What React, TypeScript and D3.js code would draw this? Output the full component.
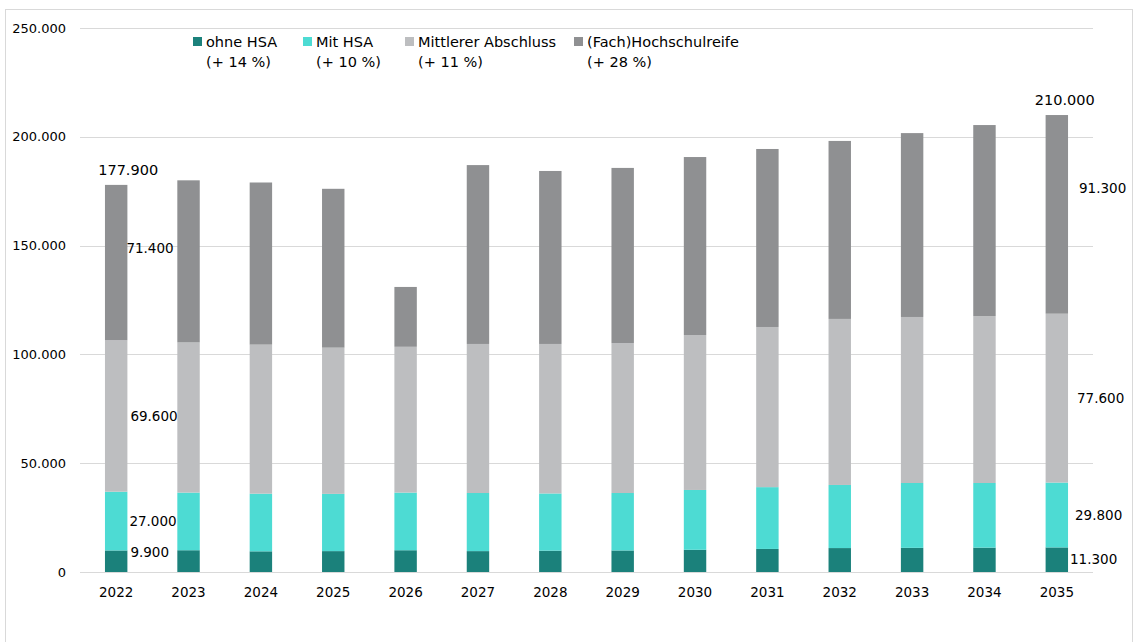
import React, { useRef, useEffect } from 'react';
import * as d3 from 'd3';

const years = ['2022', '2023', '2024', '2025', '2026', '2027', '2028', '2029', '2030', '2031', '2032', '2033', '2034', '2035'];
// values in thousands
const ohneHSA = [9.9, 10.0, 9.5, 9.6, 10.0, 9.6, 9.8, 9.9, 10.2, 10.6, 11.0, 11.1, 11.2, 11.3];
const mitHSA = [27.0, 26.5, 26.5, 26.3, 26.5, 26.7, 26.3, 26.4, 27.5, 28.4, 29.0, 29.8, 29.7, 29.8];
const mittlerer = [69.6, 69.0, 68.5, 67.2, 67.0, 68.5, 68.7, 68.9, 71.2, 73.6, 76.3, 76.3, 76.7, 77.6];
const hochschulreife = [71.4, 74.5, 74.5, 73.0, 27.5, 82.2, 79.5, 80.5, 81.8, 81.8, 81.8, 84.5, 87.8, 91.3];

const legendLabels = ['ohne HSA', 'Mit HSA', 'Mittlerer Abschluss', '(Fach)Hochschulreife'];
const legendChanges = ['(+ 14 %)', '(+ 10 %)', '(+ 11 %)', '(+ 28 %)'];
const colors = ['#1b817b', '#4ddbd3', '#bdbec0', '#8f9092'];
const yTicks = [0, 50, 100, 150, 200, 250];

const fmtK = (v: number) => (v === 0 ? '0' : d3.format(',')(Math.round(v * 1000)).replace(/,/g, '.'));

const W = 1137;
const H = 642;
const margin = { top: 28, left: 80, right: 44, bottom: 70 };

const App = () => {
  const svgRef = useRef<SVGSVGElement>(null);

  useEffect(() => {
    const svg = d3.select(svgRef.current);
    svg.selectAll('*').remove();
    const font = 'DejaVu Sans, sans-serif';

    const x = d3.scaleBand().domain(years).range([margin.left, W - margin.right]).paddingInner(0.69).paddingOuter(0.345);
    const y = d3.scaleLinear().domain([0, 250]).range([572, 28]);

    // border
    svg.append('rect').attr('x', 5.5).attr('y', 9.5).attr('width', 1127).attr('height', 640)
      .attr('fill', 'white').attr('stroke', '#d9d9d9');

    // grid
    svg.append('g').selectAll('line').data(yTicks).enter().append('line')
      .attr('x1', margin.left).attr('x2', W - margin.right)
      .attr('y1', d => Math.round(y(d)) + 0.5).attr('y2', d => Math.round(y(d)) + 0.5)
      .attr('stroke', '#d9d9d9').attr('stroke-width', 1);

    svg.append('g').selectAll('text').data(yTicks).enter().append('text')
      .attr('x', 66).attr('y', d => y(d)).attr('dy', '0.35em').attr('text-anchor', 'end')
      .attr('font-family', font).attr('font-size', 13).attr('fill', '#000')
      .text(d => fmtK(d));

    const rows = years.map((yr, i) => ({ year: yr, s0: ohneHSA[i], s1: mitHSA[i], s2: mittlerer[i], s3: hochschulreife[i] }));
    const stack = d3.stack<any>().keys(['s0', 's1', 's2', 's3']);
    const stacked = stack(rows);

    stacked.forEach((layer, li) => {
      svg.append('g').selectAll('rect').data(layer).enter().append('rect')
        .attr('x', d => x(d.data.year)!)
        .attr('width', x.bandwidth())
        .attr('y', d => y(d[1]))
        .attr('height', d => y(d[0]) - y(d[1]))
        .attr('fill', colors[li]);
    });

    // x labels
    svg.append('g').selectAll('text').data(years).enter().append('text')
      .attr('x', d => x(d)! + x.bandwidth() / 2).attr('y', 592).attr('dy', '0.35em')
      .attr('text-anchor', 'middle').attr('font-family', font).attr('font-size', 13.5)
      .text(d => d);

    // segment labels for first and last year
    const first = 0;
    const last = years.length - 1;
    const segOffsets = [
      { idx: first, dx: [3, 2, 3, -1], dy: [-9, 0, 0, -14], tx: 12 },
      { idx: last, dx: [2, 7, 9, 11], dy: [0, 0, 0, -26], tx: 8 },
    ];
    segOffsets.forEach(o => {
      stacked.forEach((layer, li) => {
        const d = layer[o.idx];
        const xr = x(years[o.idx])! + x.bandwidth();
        svg.append('text')
          .attr('x', xr + o.dx[li])
          .attr('y', (y(d[0]) + y(d[1])) / 2 + o.dy[li])
          .attr('dy', '0.35em')
          .attr('font-family', font).attr('font-size', 13.5)
          .text(fmtK(d[1] - d[0]));
      });
      const total = stacked[3][o.idx][1];
      svg.append('text')
        .attr('x', x(years[o.idx])! + x.bandwidth() / 2 + o.tx)
        .attr('y', y(total) - 15)
        .attr('dy', '0.35em').attr('text-anchor', 'middle')
        .attr('font-family', font).attr('font-size', 14.5)
        .text(fmtK(total));
    });

    // legend
    const legendX = [193, 303, 405, 574];
    const lg = svg.append('g');
    legendLabels.forEach((lab, i) => {
      lg.append('rect').attr('x', legendX[i]).attr('y', 37).attr('width', 9).attr('height', 9).attr('fill', colors[i]);
      lg.append('text').attr('x', legendX[i] + 13).attr('y', 42).attr('dy', '0.35em')
        .attr('font-family', font).attr('font-size', 14.5).text(lab);
      lg.append('text').attr('x', legendX[i] + 13).attr('y', 62).attr('dy', '0.35em')
        .attr('font-family', font).attr('font-size', 14.5).text(legendChanges[i]);
    });
  }, []);

  return (
    <svg ref={svgRef} width={W} height={H} style={{ position: 'absolute', left: 0, top: 0 }}></svg>
  );
};

export default App;
